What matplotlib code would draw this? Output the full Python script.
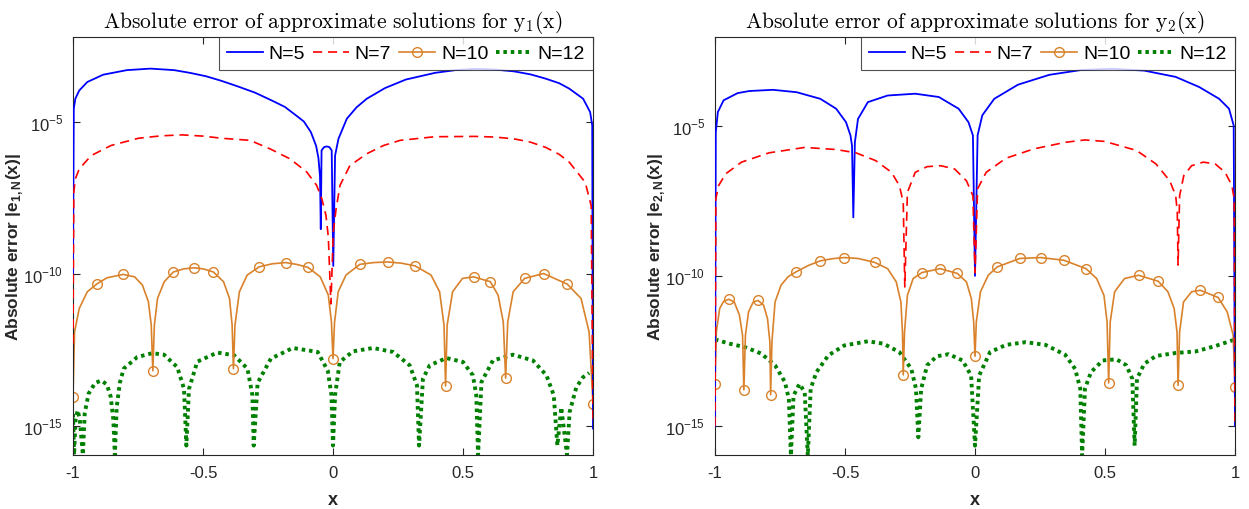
import matplotlib
matplotlib.use("Agg")
import matplotlib.pyplot as plt
import numpy as np
from matplotlib.ticker import FixedLocator, FixedFormatter, NullLocator

# values below are log10 of the absolute error

# ---- y1(x) ----
y1_n5_x = [-1.0, -0.997, -0.991, -0.976, -0.945, -0.884, -0.793, -0.702, -0.611, -0.55,
           -0.489, -0.43, -0.368, -0.30, -0.235, -0.185, -0.142, -0.112, -0.085, -0.065,
           -0.056, -0.05, -0.047, -0.044, -0.034, -0.024, -0.014, -0.005, 0.001, 0.008,
           0.021, 0.053, 0.091, 0.13, 0.2, 0.28, 0.392, 0.47, 0.544, 0.62,
           0.696, 0.76, 0.818, 0.87, 0.909, 0.962, 0.989, 0.997, 1.0]
y1_n5_log = [-10.0, -4.58, -4.25, -3.98, -3.70, -3.46, -3.31, -3.26, -3.31, -3.40,
             -3.51, -3.66, -3.84, -4.05, -4.31, -4.52, -4.80, -5.0, -5.35, -5.8,
             -6.2, -6.8, -8.54, -5.95, -5.84, -5.82, -5.84, -5.95, -9.75, -6.12,
             -5.57, -4.91, -4.53, -4.25, -3.90, -3.62, -3.40, -3.31, -3.27, -3.29,
             -3.35, -3.45, -3.59, -3.74, -3.92, -4.25, -4.69, -5.13, -15.1]

y1_n7_x = [-1.0, -0.997, -0.991, -0.976, -0.93, -0.854, -0.748, -0.66, -0.581, -0.50,
           -0.429, -0.319, -0.242, -0.165, -0.101, -0.063, -0.043, -0.027, -0.018, -0.008,
           0.001, 0.012, 0.027, 0.065, 0.13, 0.194, 0.258, 0.392, 0.544, 0.62,
           0.696, 0.76, 0.818, 0.87, 0.909, 0.97, 0.993, 1.0]
y1_n7_log = [-12.3, -7.33, -6.89, -6.56, -6.12, -5.79, -5.55, -5.47, -5.44, -5.48,
             -5.55, -5.62, -5.90, -6.23, -6.66, -7.1, -7.54, -8.09, -8.8, -11.0,
             -8.64, -7.87, -7.1, -6.45, -6.06, -5.79, -5.62, -5.5, -5.49, -5.51,
             -5.57, -5.68, -5.85, -6.08, -6.34, -7.0, -7.77, -14.8]

y1_n10_x = [-1.0, -0.994, -0.976, -0.945, -0.906, -0.869, -0.807, -0.763, -0.733, -0.71,
            -0.699, -0.693, -0.687, -0.675, -0.649, -0.614, -0.575, -0.535, -0.498, -0.46,
            -0.421, -0.398, -0.388, -0.383, -0.377, -0.36, -0.33, -0.284, -0.233, -0.182,
            -0.14, -0.096, -0.049, -0.018, -0.006, 0.0, 0.006, 0.02, 0.05, 0.103,
            0.156, 0.21, 0.263, 0.316, 0.377, 0.41, 0.427, 0.433, 0.439, 0.46,
            0.498, 0.541, 0.605, 0.635, 0.655, 0.664, 0.672, 0.693, 0.737, 0.81,
            0.901, 0.954, 0.985, 1.0]
y1_n10_log = [-14.07, -11.92, -11.15, -10.6, -10.33, -10.14, -10.03, -10.11, -10.38, -10.93,
              -11.7, -13.2, -11.7, -10.82, -10.27, -9.95, -9.85, -9.81, -9.85, -9.95,
              -10.27, -10.82, -11.7, -13.13, -11.7, -10.6, -10.05, -9.78, -9.68, -9.64,
              -9.7, -9.8, -10.11, -10.71, -11.6, -12.8, -11.6, -10.6, -10.05, -9.70,
              -9.64, -9.62, -9.66, -9.75, -10.05, -10.6, -11.7, -13.7, -11.7, -10.6,
              -10.16, -10.11, -10.27, -10.71, -11.6, -13.44, -11.6, -10.6, -10.16, -10.0,
              -10.35, -10.82, -11.92, -14.29]
y1_n10_marks = [-1.0, -0.906, -0.807, -0.693, -0.614, -0.535, -0.46, -0.383, -0.284, -0.182,
                -0.096, 0.0, 0.103, 0.21, 0.316, 0.433, 0.541, 0.605, 0.664, 0.737,
                0.81, 0.901, 1.0]

y1_n12_x = [-1.0, -0.996, -0.99, -0.982, -0.974, -0.962, -0.955, -0.94, -0.915, -0.891,
            -0.87, -0.855, -0.845, -0.839, -0.832, -0.82, -0.805, -0.753, -0.695, -0.65,
            -0.599, -0.573, -0.564, -0.554, -0.522, -0.445, -0.38, -0.329, -0.31, -0.305,
            -0.29, -0.239, -0.155, -0.059, -0.02, -0.006, 0.0, 0.008, 0.026, 0.077,
            0.154, 0.231, 0.295, 0.323, 0.331, 0.346, 0.372, 0.436, 0.5, 0.538,
            0.551, 0.558, 0.571, 0.615, 0.692, 0.769, 0.821, 0.849, 0.863, 0.878,
            0.9, 0.91, 0.936, 0.962, 0.985]
y1_n12_log = [-14.62, -15.97, -14.8, -14.5, -14.8, -15.97, -14.6, -13.95, -13.6, -13.52,
              -13.65, -14.05, -14.8, -15.97, -14.4, -13.6, -13.13, -12.75, -12.62, -12.67,
              -13.08, -13.79, -15.66, -13.8, -12.9, -12.6, -12.69, -13.13, -14.0, -15.66,
              -13.6, -12.8, -12.45, -12.58, -13.2, -14.0, -15.66, -14.0, -12.91, -12.56,
              -12.45, -12.58, -13.02, -13.68, -15.66, -13.46, -13.02, -12.78, -12.91, -13.35,
              -14.0, -15.97, -13.57, -12.86, -12.67, -12.86, -13.35, -14.0, -15.66, -14.4,
              -15.97, -14.56, -13.74, -13.41, -13.27]

# ---- y2(x) ----
y2_n5_x = [-1.0, -0.997, -0.989, -0.967, -0.913, -0.868, -0.777, -0.686, -0.595, -0.534,
           -0.496, -0.479, -0.473, -0.468, -0.462, -0.45, -0.412, -0.336, -0.23, -0.139,
           -0.063, -0.025, -0.008, 0.0, 0.01, 0.028, 0.074, 0.165, 0.286, 0.408,
           0.529, 0.651, 0.772, 0.863, 0.939, 0.977, 0.995, 1.0]
y2_n5_log = [-15.0, -5.21, -4.54, -4.15, -3.91, -3.84, -3.80, -3.88, -4.10, -4.43,
             -4.88, -5.32, -5.66, -8.05, -5.55, -4.77, -4.21, -3.99, -3.93, -4.04,
             -4.43, -4.88, -5.32, -10.0, -5.32, -4.65, -4.10, -3.63, -3.30, -3.14,
             -3.10, -3.16, -3.37, -3.71, -4.10, -4.43, -4.99, -15.0]

y2_n7_x = [-1.0, -0.997, -0.986, -0.959, -0.898, -0.792, -0.655, -0.534, -0.458, -0.382,
           -0.321, -0.291, -0.276, -0.270, -0.260, -0.23, -0.184, -0.131, -0.078, -0.033,
           -0.008, 0.0, 0.01, 0.043, 0.119, 0.226, 0.347, 0.423, 0.499, 0.621,
           0.696, 0.749, 0.772, 0.778, 0.781, 0.787, 0.803, 0.833, 0.878, 0.924,
           0.962, 0.988, 0.997, 1.0]
y2_n7_log = [-15.0, -7.44, -6.99, -6.60, -6.21, -5.90, -5.72, -5.79, -5.90, -6.16,
             -6.55, -6.99, -7.55, -10.37, -7.22, -6.55, -6.36, -6.33, -6.44, -6.83,
             -7.33, -9.9, -7.10, -6.55, -6.08, -5.77, -5.55, -5.47, -5.52, -5.82,
             -6.27, -6.83, -7.33, -7.88, -9.64, -7.33, -6.66, -6.33, -6.21, -6.27,
             -6.55, -6.99, -7.44, -15.0]

y2_n10_x = [-1.0, -0.995, -0.982, -0.967, -0.947, -0.926, -0.906, -0.894, -0.889, -0.883,
            -0.871, -0.853, -0.834, -0.813, -0.798, -0.789, -0.786, -0.781, -0.769, -0.746,
            -0.719, -0.689, -0.64, -0.595, -0.55, -0.503, -0.45, -0.386, -0.336, -0.303,
            -0.285, -0.279, -0.276, -0.271, -0.26, -0.238, -0.204, -0.134, -0.068, -0.033,
            -0.014, -0.005, 0.0, 0.005, 0.021, 0.051, 0.086, 0.172, 0.253, 0.342,
            0.427, 0.468, 0.496, 0.508, 0.514, 0.52, 0.537, 0.575, 0.629, 0.705,
            0.742, 0.766, 0.777, 0.781, 0.787, 0.802, 0.833, 0.866, 0.935, 0.97,
            0.993, 1.0]
y2_n10_log = [-13.6, -11.87, -11.09, -10.85, -10.78, -10.87, -11.31, -11.98, -13.8, -11.98,
              -11.2, -10.87, -10.82, -10.98, -11.43, -12.2, -13.96, -12.2, -10.87, -10.31,
              -10.03, -9.87, -9.65, -9.5, -9.43, -9.39, -9.42, -9.55, -9.76, -10.2,
              -10.87, -11.87, -13.3, -11.87, -10.65, -10.09, -9.89, -9.76, -9.92, -10.2,
              -10.76, -11.54, -12.68, -11.54, -10.53, -9.98, -9.7, -9.42, -9.39, -9.48,
              -9.76, -10.09, -10.65, -11.54, -13.57, -11.54, -10.53, -10.09, -9.98, -10.18,
              -10.53, -11.09, -11.87, -13.65, -11.87, -10.87, -10.53, -10.48, -10.72, -11.2,
              -11.98, -13.71]
y2_n10_marks = [-1.0, -0.947, -0.889, -0.834, -0.786, -0.689, -0.595, -0.503, -0.386, -0.276,
                -0.204, -0.134, -0.068, 0.0, 0.086, 0.172, 0.253, 0.342, 0.427, 0.514,
                0.629, 0.705, 0.781, 0.866, 0.935, 1.0]

y2_n12_x = [-1.0, -0.944, -0.883, -0.822, -0.769, -0.731, -0.716, -0.708, -0.698, -0.675,
            -0.655, -0.643, -0.632, -0.61, -0.564, -0.503, -0.412, -0.352, -0.291, -0.245,
            -0.227, -0.218, -0.207, -0.184, -0.147, -0.101, -0.048, -0.015, 0.0, 0.016,
            0.058, 0.119, 0.195, 0.271, 0.347, 0.385, 0.405, 0.412, 0.423, 0.446,
            0.491, 0.544, 0.582, 0.605, 0.614, 0.623, 0.651, 0.696, 0.772, 0.848,
            0.924, 1.0]
y2_n12_log = [-12.12, -12.26, -12.38, -12.59, -12.98, -13.54, -14.1, -15.99, -13.99, -13.6,
              -13.88, -15.99, -13.76, -13.21, -12.65, -12.32, -12.18, -12.26, -12.54, -13.1,
              -13.76, -15.38, -13.76, -12.98, -12.68, -12.61, -12.82, -13.32, -15.66, -13.32,
              -12.54, -12.3, -12.21, -12.3, -12.63, -13.1, -13.76, -15.99, -13.76, -13.21,
              -12.82, -12.78, -12.98, -13.43, -15.66, -13.43, -12.93, -12.67, -12.57, -12.52,
              -12.34, -12.12]

labels = ["N=5", "N=7", "N=10", "N=12"]
colors = ["#0000ff", "#ff0000", "#d9822b", "#008000"]

plt.rcParams["font.family"] = ["Liberation Sans", "DejaVu Sans"]
plt.rcParams["mathtext.fontset"] = "custom"
plt.rcParams["mathtext.rm"] = "Liberation Sans"
plt.rcParams["mathtext.bf"] = "Liberation Sans:bold"
plt.rcParams["axes.unicode_minus"] = False

AXIS_COLOR = "#262626"


def draw_panel(ax, series, marks, ytop, title, ylabel):
    (x5, l5), (x7, l7), (x10, l10), (x12, l12) = series

    ax.plot(x5, 10.0 ** np.array(l5), color=colors[0], lw=1.3, label=labels[0], zorder=3)
    ax.plot(x7, 10.0 ** np.array(l7), color=colors[1], lw=1.2, dashes=(5.5, 3.5),
            label=labels[1], zorder=3)
    idx = np.flatnonzero(np.isin(x10, marks))
    ax.plot(x10, 10.0 ** np.array(l10), color=colors[2], lw=1.2, marker="o",
            markevery=list(idx), markersize=7, markerfacecolor="none",
            markeredgewidth=1.0, label=labels[2], zorder=2)
    ax.plot(x12, 10.0 ** np.array(l12), color=colors[3], lw=2.8, dashes=(0.9, 1.0),
            dash_capstyle="butt", label=labels[3], zorder=1)

    ax.set_yscale("log")
    ax.set_xlim(-1, 1)
    ax.set_ylim(10.0 ** -15.97, 10.0 ** ytop)

    ax.xaxis.set_major_locator(FixedLocator([-1, -0.5, 0, 0.5, 1]))
    ax.xaxis.set_major_formatter(FixedFormatter(["-1", "-0.5", "0", "0.5", "1"]))
    ax.yaxis.set_major_locator(FixedLocator([1e-15, 1e-10, 1e-5]))
    ax.yaxis.set_major_formatter(FixedFormatter([r"$10^{-15}$", r"$10^{-10}$", r"$10^{-5}$"]))
    ax.yaxis.set_minor_locator(NullLocator())
    ax.tick_params(direction="in", top=True, right=True, length=5, width=0.8,
                   labelsize=12, colors=AXIS_COLOR, pad=7)
    for sp in ax.spines.values():
        sp.set_color(AXIS_COLOR)
        sp.set_linewidth(0.8)

    ax.set_title(title, fontsize=15.5, math_fontfamily="cm", pad=7)
    ax.set_xlabel("x", fontsize=13, fontweight="bold", color=AXIS_COLOR)
    ax.xaxis.set_label_coords(0.5, -0.086)
    ax.set_ylabel(ylabel, fontsize=12.5, fontweight="bold", color=AXIS_COLOR)
    ax.yaxis.set_label_coords(-0.093, 0.5)

    leg = ax.legend(loc="upper right", ncol=4, fontsize=14, frameon=True, fancybox=False,
                    borderaxespad=0, handlelength=1.85, handletextpad=0.3,
                    columnspacing=0.4, borderpad=0.4, edgecolor=AXIS_COLOR)
    leg.get_frame().set_linewidth(0.8)


def main():
    fig = plt.figure(figsize=(12.49, 5.10), dpi=100)
    ax1 = fig.add_axes([73 / 1249, 54 / 510, 520 / 1249, 418 / 510])
    ax2 = fig.add_axes([715 / 1249, 54 / 510, 520 / 1249, 418 / 510])

    draw_panel(ax1,
               [(y1_n5_x, y1_n5_log), (y1_n7_x, y1_n7_log),
                (y1_n10_x, y1_n10_log), (y1_n12_x, y1_n12_log)],
               y1_n10_marks, -2.22,
               r"$\mathrm{Absolute\ error\ of\ approximate\ solutions\ for\ y_1(x)}$",
               r"Absolute error |e$_{\mathbf{1,N}}$(x)|")
    draw_panel(ax2,
               [(y2_n5_x, y2_n5_log), (y2_n7_x, y2_n7_log),
                (y2_n10_x, y2_n10_log), (y2_n12_x, y2_n12_log)],
               y2_n10_marks, -2.04,
               r"$\mathrm{Absolute\ error\ of\ approximate\ solutions\ for\ y_2(x)}$",
               r"Absolute error |e$_{\mathbf{2,N}}$(x)|")

    fig.savefig("out.png", dpi=100)


if __name__ == "__main__":
    main()
